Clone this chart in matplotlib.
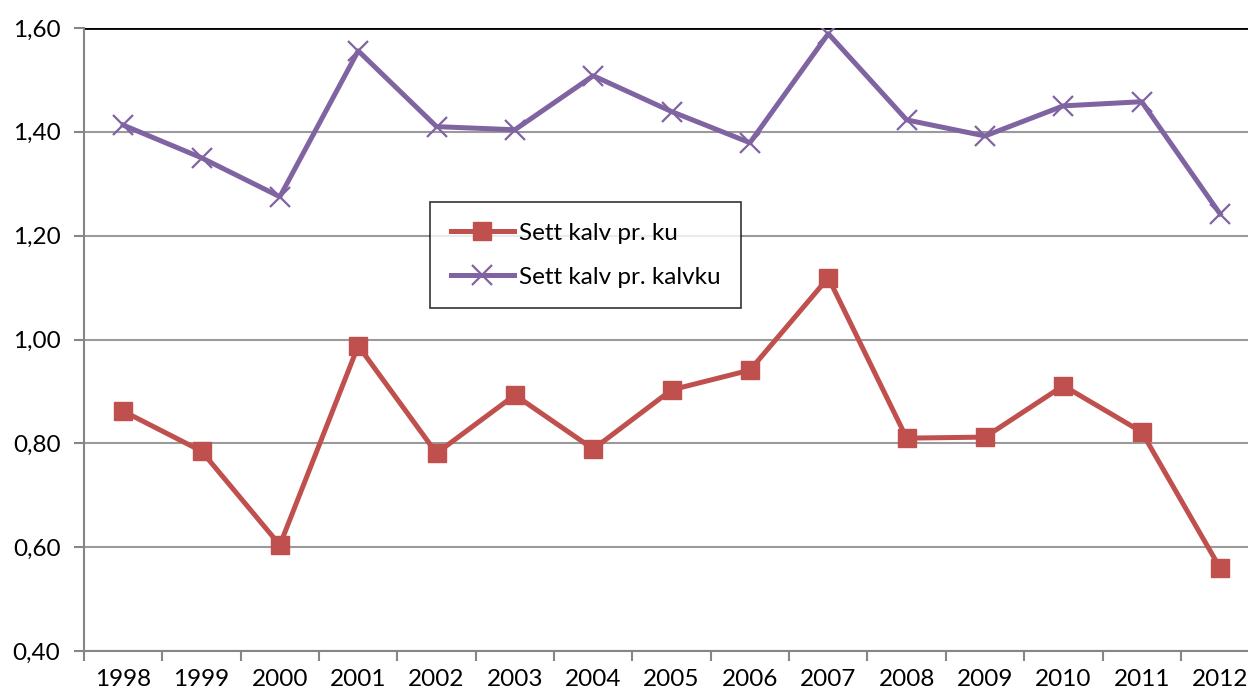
import matplotlib.pyplot as plt
from matplotlib.ticker import FuncFormatter, FixedLocator

plt.rcParams['font.family'] = ['Lato', 'DejaVu Sans']

years = [str(y) for y in range(1998, 2013)]
kalv_pr_ku = [0.862, 0.785, 0.604, 0.988, 0.781, 0.893, 0.789, 0.903,
              0.941, 1.119, 0.810, 0.812, 0.911, 0.822, 0.560]
kalv_pr_kalvku = [1.413, 1.350, 1.275, 1.556, 1.410, 1.404, 1.508, 1.439,
                  1.379, 1.589, 1.423, 1.392, 1.450, 1.458, 1.242]

W, H = 1248, 695
fig = plt.figure(figsize=(W / 100, H / 100), dpi=100)
# plot area runs slightly past the right edge, as in the original crop
ax = fig.add_axes([84 / W, 44 / H, 1175.2 / W, 623 / H])

x = list(range(len(years)))
ax.plot(x, kalv_pr_ku, color='#C0504D', lw=3.6, marker='s', ms=13,
        label='Sett kalv pr. ku', solid_joinstyle='round', zorder=3)
ax.plot(x, kalv_pr_kalvku, color='#8064A2', lw=3.6, marker='x', ms=15,
        mew=1.6, label='Sett kalv pr. kalvku', solid_joinstyle='round', zorder=3)

ax.set_xlim(-0.5, len(years) - 0.5)
ax.set_ylim(0.40, 1.60)
ax.set_yticks([0.4, 0.6, 0.8, 1.0, 1.2, 1.4, 1.6])
ax.yaxis.set_major_formatter(FuncFormatter(lambda v, p: f'{v:.2f}'.replace('.', ',')))
ax.set_xticks(x)
ax.set_xticklabels(years)
ax.xaxis.set_minor_locator(FixedLocator([i - 0.5 for i in range(len(years) + 1)]))
ax.tick_params(axis='x', which='major', length=0, labelsize=17.5, pad=13)
ax.tick_params(axis='x', which='minor', length=7, width=1.5, color='#868686')
ax.tick_params(axis='y', length=7, width=1.5, color='#868686', labelsize=17.5, pad=10)

ax.grid(axis='y', color='#9a9a9a', lw=1.5)
ax.set_axisbelow(True)
for s in ['top', 'right']:
    ax.spines[s].set_visible(False)
for s in ['left', 'bottom']:
    ax.spines[s].set_color('#868686')
    ax.spines[s].set_linewidth(1.5)
ax.axhline(1.60, color='black', lw=2, zorder=2)

leg = ax.legend(loc='upper left', bbox_to_anchor=(430 / W, 1 - 202 / H),
                bbox_transform=fig.transFigure, fontsize=17.5, frameon=True,
                fancybox=False, edgecolor='black', borderpad=0.85,
                labelspacing=0.95, handlelength=2.6, handletextpad=0.2,
                borderaxespad=0)
leg.get_frame().set_linewidth(1.2)

fig.savefig('out.png', dpi=100)
